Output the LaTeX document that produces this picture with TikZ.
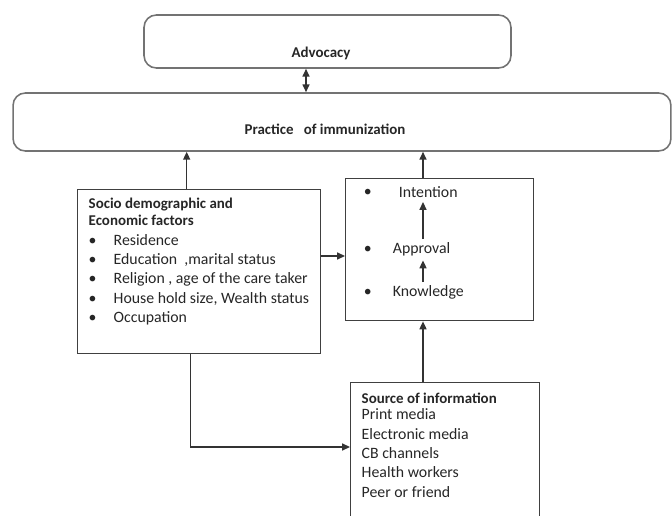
\documentclass[tikz,border=0pt]{standalone}
\usepackage{fontspec}
\setmainfont{Carlito}
\usetikzlibrary{arrows.meta}

\newcommand{\bul}[1]{\makebox[0.5cm][l]{\textbullet}#1}

\begin{document}
\begin{tikzpicture}[
    x=0.02cm, y=-0.02cm,
    round/.style={draw=black!55, rounded corners=7pt, line width=0.9pt},
    frame/.style={draw=black!75, line width=0.8pt, anchor=north west},
    word/.style={inner sep=2pt},
    link/.style={-{Triangle[length=4.5pt, width=4pt]}, draw=black!80, line width=0.8pt},
    every node/.style={font=\fontsize{9}{11.06}\selectfont, text=black!85}
]
    \clip (0,0) rectangle (672,516);

    % Boxes
    \node[round, minimum width=7.34cm, minimum height=1.06cm] (adv) at (327.5,41.5) {};
    \node[font=\fontsize{8.5}{10}\selectfont\bfseries] (advtxt) at (321,53) {Advocacy};

    \node[round, minimum width=13.16cm, minimum height=1.16cm] (prac) at (342,122) {};
    \node[font=\fontsize{8.5}{10}\selectfont\bfseries] (practxt) at (325,129) {Practice\ \ \ of immunization};

    \node[frame, inner xsep=0.22cm, inner ysep=0.17cm] (socio) at (77,189)
        {\parbox[t][2.94cm][t]{4.42cm}{\fontsize{8.5}{11.06}\selectfont\bfseries Socio demographic and\\[-1.4pt]
        Economic factors\\
        \fontsize{9}{11.06}\mdseries
        \bul{Residence}\\
        \bul{Education\ \ ,marital status}\\
        \bul{Religion , age of the care taker}\\
        \bul{House hold size, Wealth status}\\
        \bul{Occupation}}};

    \node[frame, minimum width=3.76cm, minimum height=2.84cm] (mid) at (345,178) {};
    \node[word, anchor=base west, label={[xshift=-0.34cm]left:\textbullet}] (intent) at (395,198) {Intention};
    \node[word, anchor=base west, label={[xshift=-0.22cm]left:\textbullet}] (appr) at (389,254) {Approval};
    \node[word, anchor=base west, label={[xshift=-0.22cm]left:\textbullet}] (know) at (389,297) {Knowledge};

    \node[frame, inner xsep=0.22cm, inner ysep=0.2cm] (src) at (350,382)
        {\parbox[t][2.56cm][t]{3.34cm}{\fontsize{8.5}{11}\selectfont\bfseries Source of information\\[-1.6pt]
        \fontsize{9}{11}\mdseries
        Print media\\
        Electronic media\\
        CB channels\\
        Health workers\\
        Peer or friend}};

    % Arrows
    \coordinate (ax) at (423,0);
    \draw[link, {Triangle[length=4.5pt, width=4pt]}-{Triangle[length=4.5pt, width=4pt]}]
        ([xshift=-0.43cm]adv.south) -- ([xshift=-0.43cm]adv.south |- prac.north);
    \draw[link] ([xshift=-0.25cm]socio.north) -- ([xshift=-0.25cm]socio.north |- prac.south);
    \draw[link] (mid.north -| ax) -- (prac.south -| ax);
    \draw[link] (socio.east |- 0,256) -- (mid.west |- 0,256);
    \draw[link] (appr.north -| ax) -- (intent.south -| ax);
    \draw[link] (know.north -| ax) -- (appr.south -| ax);
    \draw[link] (src.north -| ax) -- (mid.south -| ax);
    \draw[link] ([xshift=-0.17cm]socio.south) |- (src.west |- 0,447);

\end{tikzpicture}
\end{document}
